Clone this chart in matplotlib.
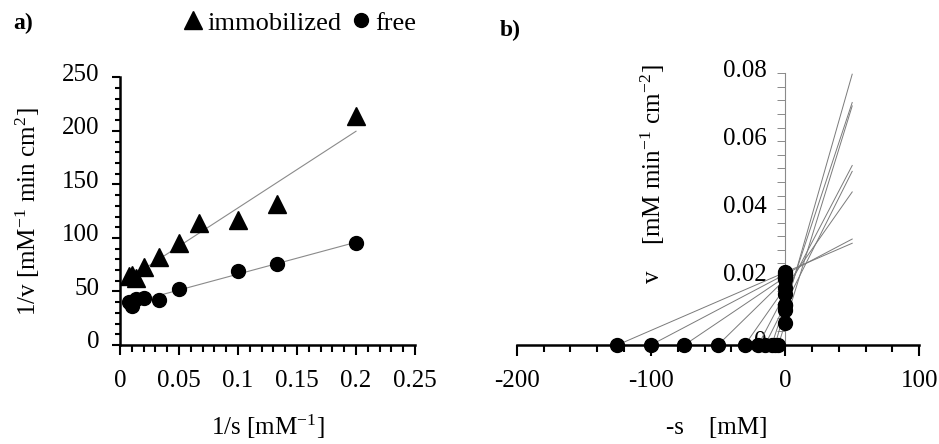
import numpy as np
import matplotlib
matplotlib.use("Agg")
import matplotlib.pyplot as plt
from matplotlib.lines import Line2D
from matplotlib.ticker import MultipleLocator, FixedLocator, FixedFormatter
from matplotlib.transforms import ScaledTranslation

plt.rcParams['font.family'] = ['Liberation Serif', 'DejaVu Serif']
plt.rcParams['mathtext.fontset'] = 'stix'
plt.rcParams['axes.unicode_minus'] = False

# ---------------- data ----------------
# panel a: Lineweaver-Burk
inv_s_immob = [0.008, 0.01, 0.0133, 0.02, 0.0333, 0.05, 0.0667, 0.1, 0.1333, 0.2]
inv_v_immob = [64, 65, 63, 73, 82, 95, 114, 117, 132, 214]
inv_s_free = [0.008, 0.01, 0.0133, 0.02, 0.0333, 0.05, 0.1, 0.1333, 0.2]
inv_v_free = [40, 36.5, 43, 43.5, 42, 52, 69, 76, 95]

a_xticks = [0, 0.05, 0.1, 0.15, 0.2, 0.25]
a_xticklabels = ['0', '0.05', '0.1', '0.15', '0.2', '0.25']
a_yticks = [0, 50, 100, 150, 200, 250]
a_yticklabels = ['0', '50', '100', '150', '200', '250']

# panel b: direct linear plot
s_obs = [125, 100, 75, 50, 30, 20, 15, 10, 7.5, 5]
v_obs = [0.0214, 0.0208, 0.0200, 0.0193, 0.0169, 0.0151, 0.0118, 0.0119, 0.0104, 0.0064]
line_end_x = [50, 50, 0, 0, 50, 50, 50, 50, 50, 50]

b_xticks = [-200, -100, 0, 100]
b_xticklabels = ['-200', '-100', '0', '100']
b_yticks = [0, 0.02, 0.04, 0.06, 0.08]
b_yticklabels = ['0', '0.02', '0.04', '0.06', '0.08']

FS = 18

fig = plt.figure(figsize=(9.39, 4.44), dpi=100)
W, H = 939, 444

def axes_px(l, r, t, b):
    return fig.add_axes([l / W, 1 - b / H, (r - l) / W, (b - t) / H])

# ---------------- panel a ----------------
ax = axes_px(120, 415, 77.3, 345)
ax.set_xlim(0, 0.25)
ax.set_ylim(0, 250)

for xs, ys in [(inv_s_immob, inv_v_immob), (inv_s_free, inv_v_free)]:
    k, c = np.polyfit(xs, ys, 1)
    xx = np.array([min(xs), max(xs)])
    ax.plot(xx, k * xx + c, color='#8a8a8a', lw=0.8, zorder=2)

ax.plot(inv_s_immob, inv_v_immob, ls='none', marker='^', ms=13, color='k',
        zorder=3, clip_on=False)
ax.plot(inv_s_free, inv_v_free, ls='none', marker='o', ms=10, color='k',
        zorder=3, clip_on=False)

for sp in ['top', 'right']:
    ax.spines[sp].set_visible(False)
for sp in ['left', 'bottom']:
    ax.spines[sp].set_linewidth(1.8)
    ax.spines[sp].set_color('k')

ax.xaxis.set_major_locator(FixedLocator(a_xticks))
ax.xaxis.set_major_formatter(FixedFormatter(a_xticklabels))
ax.xaxis.set_minor_locator(MultipleLocator(0.01))
ax.yaxis.set_major_locator(FixedLocator(a_yticks))
ax.yaxis.set_major_formatter(FixedFormatter(a_yticklabels))
ax.yaxis.set_minor_locator(MultipleLocator(10))
ax.tick_params(axis='x', which='major', direction='out', length=7, width=1.5, pad=11, labelsize=FS)
ax.tick_params(axis='x', which='minor', direction='out', length=5, width=1.5)
ax.tick_params(axis='y', which='major', direction='out', length=6, width=1.5, pad=9, labelsize=FS)
ax.tick_params(axis='y', which='minor', direction='out', length=3.5, width=1.5)
for lab in ax.get_yticklabels():
    lab.set_transform(lab.get_transform() + ScaledTranslation(0, 5 / 100, fig.dpi_scale_trans))

fig.text(28 / W, 1 - 212 / H, r'1/v [mM$^{\mathregular{-1}}$ min cm$^{\mathregular{2}}$]',
         rotation=90, ha='center', va='center', fontsize=FS)
fig.text(268 / W, 1 - 427 / H, r'1/s [mM$^{\mathregular{-1}}$]', ha='center', va='center', fontsize=FS)

# ---------------- panel b ----------------
bx = axes_px(516.7, 919.3, 73.3, 345)
bx.set_xlim(-200, 100)
bx.set_ylim(0, 0.08)

for s, v, xe in zip(s_obs, v_obs, line_end_x):
    bx.plot([-s, xe], [0, v * (1 + xe / s)], color='#7a7a7a', lw=0.7, zorder=2)

bx.plot([-s for s in s_obs], [0] * len(s_obs), ls='none', marker='o', ms=10,
        color='k', zorder=4, clip_on=False)
bx.plot([0] * len(v_obs), v_obs, ls='none', marker='o', ms=10,
        color='k', zorder=4, clip_on=False)

for sp in ['top', 'right']:
    bx.spines[sp].set_visible(False)
bx.spines['bottom'].set_linewidth(1.8)
bx.spines['bottom'].set_color('k')
bx.spines['left'].set_position(('data', 0))
bx.spines['left'].set_linewidth(0.8)
bx.spines['left'].set_color('#8a8a8a')

bx.xaxis.set_major_locator(FixedLocator(b_xticks))
bx.xaxis.set_major_formatter(FixedFormatter(b_xticklabels))
bx.xaxis.set_minor_locator(MultipleLocator(20))
bx.yaxis.set_major_locator(FixedLocator(b_yticks))
bx.yaxis.set_major_formatter(FixedFormatter(b_yticklabels))
bx.yaxis.set_minor_locator(MultipleLocator(0.004))
bx.tick_params(axis='x', which='major', direction='out', length=8, width=1.5, pad=10, labelsize=FS)
bx.tick_params(axis='x', which='minor', direction='out', length=5, width=1.5)
bx.tick_params(axis='y', which='both', direction='out', length=5.5, width=0.7,
               color='#8a8a8a', pad=8, labelsize=FS)
for lab in bx.get_yticklabels():
    lab.set_transform(lab.get_transform() + ScaledTranslation(0, 5 / 100, fig.dpi_scale_trans))

fig.text(652.7 / W, 1 - 276.7 / H, 'v', rotation=90, ha='center', va='center', fontsize=FS)
fig.text(653 / W, 1 - 155 / H, r'[mM min$^{\mathregular{-1}}$ cm$^{\mathregular{-2}}$]',
         rotation=90, ha='center', va='center', fontsize=FS)
fig.text(716.7 / W, 1 - 428 / H, '-s    [mM]', ha='center', va='center', fontsize=FS)

# ---------------- labels & legend ----------------
fig.text(13 / W, 1 - 23 / H, 'a)', ha='left', va='center', fontsize=17, fontweight='bold')
fig.text(500 / W, 1 - 30 / H, 'b)', ha='left', va='center', fontsize=17, fontweight='bold')

handles = [Line2D([], [], ls='none', marker='^', ms=13, color='k'),
           Line2D([], [], ls='none', marker='o', ms=10, color='k')]
fig.legend(handles, ['immobilized', 'free'], ncol=2, frameon=False, loc='center',
           bbox_to_anchor=(300 / W, 1 - 23 / H), fontsize=19, handlelength=0.7,
           handletextpad=0.2, columnspacing=0.4, borderpad=0, borderaxespad=0)

fig.savefig('out.png', dpi=100)
